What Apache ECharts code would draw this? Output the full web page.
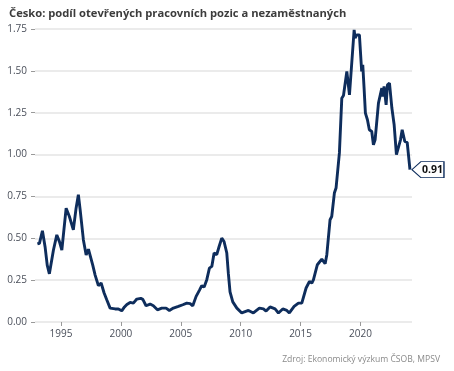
<!DOCTYPE html>
<html><head><meta charset="utf-8">
<script src="https://cdn.jsdelivr.net/npm/echarts@6/dist/echarts.min.js"></script>
<style>html,body{margin:0;padding:0;background:#fff}#c{width:454px;height:371px}</style>
</head><body><div id="c"></div>
<script>
const titleText = 'Česko: podíl otevřených pracovních pozic a nezaměstnaných';
const sourceText = 'Zdroj: Ekonomický výzkum ČSOB, MPSV';
const xTickYears = [1995, 2000, 2005, 2010, 2015, 2020];
const yTicks = [0, 0.25, 0.5, 0.75, 1, 1.25, 1.5, 1.75];
const dates = [
 1993.03,1993.2,1993.45,1993.67,1993.85,1994.03,1994.37,1994.65,1994.87,1995.07,
 1995.43,1995.7,1995.85,1996.03,1996.26,1996.45,1996.6,1996.87,1997.1,1997.29,
 1997.43,1997.65,1997.85,1998.12,1998.35,1998.6,1998.82,1999.1,1999.52,1999.79,
 2000.07,2000.3,2000.5,2000.77,2001.04,2001.33,2001.66,2001.83,2002.1,2002.44,
 2002.71,2003.05,2003.41,2003.77,2004.05,2004.38,2004.8,2005.17,2005.5,2005.78,
 2006.0,2006.28,2006.55,2006.75,2006.95,2007.17,2007.39,2007.59,2007.78,2008.0,
 2008.2,2008.42,2008.61,2008.84,2008.97,2009.11,2009.34,2009.68,2010.09,2010.65,
 2011.06,2011.56,2011.9,2012.12,2012.45,2012.87,2013.15,2013.51,2013.85,2014.06,
 2014.46,2014.82,2015.1,2015.46,2015.74,2015.94,2016.07,2016.4,2016.77,2017.05,
 2017.19,2017.46,2017.6,2017.82,2017.96,2018.07,2018.24,2018.44,2018.58,2018.86,
 2019.08,2019.28,2019.47,2019.55,2019.69,2019.91,2020.1,2020.19,2020.3,2020.41,
 2020.58,2020.74,2020.94,2021.08,2021.22,2021.5,2021.78,2021.86,2021.97,2022.14,
 2022.25,2022.42,2022.62,2022.81,2023.0,2023.34,2023.48,2023.7,2023.9,2024.13
];
const values = [
 0.466,0.47,0.545,0.45,0.34,0.288,0.43,0.52,0.48,0.43,
 0.68,0.63,0.62,0.55,0.68,0.76,0.67,0.49,0.40,0.435,
 0.43,0.34,0.28,0.217,0.233,0.173,0.133,0.083,0.078,0.078,
 0.067,0.09,0.105,0.117,0.113,0.137,0.141,0.135,0.097,0.107,
 0.097,0.073,0.083,0.083,0.069,0.083,0.093,0.103,0.113,0.11,
 0.097,0.153,0.189,0.217,0.209,0.253,0.322,0.332,0.412,0.402,
 0.451,0.501,0.481,0.412,0.29,0.18,0.12,0.083,0.054,0.069,
 0.054,0.083,0.078,0.065,0.09,0.078,0.054,0.078,0.069,0.054,
 0.093,0.113,0.113,0.203,0.242,0.233,0.252,0.342,0.376,0.348,
 0.402,0.611,0.63,0.77,0.80,0.79,1.01,1.337,1.353,1.496,
 1.357,1.556,1.745,1.696,1.715,1.715,1.496,1.536,1.397,1.248,
 1.208,1.148,1.138,1.058,1.088,1.307,1.397,1.347,1.407,1.297,
 1.417,1.427,1.278,1.178,1.0,1.088,1.148,1.078,1.072,0.91
];

const lineColor = '#0e2d5c';
const series = dates.map((d, i) => [d, values[i]]);
const lastIdx = dates.length - 1;
const ff = '"Open Sans", sans-serif';

const chart = echarts.init(document.getElementById('c'), null, {renderer: 'canvas'});
chart.setOption({
  animation: false,
  title: [
    {text: titleText, left: 4, top: 3,
     textStyle: {fontFamily: ff, fontSize: 11.2, fontWeight: 'bold', color: '#3c3c3c'}},
    {text: sourceText, right: 9, top: 350,
     textStyle: {fontFamily: ff, fontSize: 8.6, fontWeight: 'normal', color: '#8a8a8a'}}
  ],
  grid: {left: 35, right: 42, top: 29, bottom: 49, containLabel: false},
  xAxis: {
    type: 'value', min: 1992.83, max: 2024.3,
    axisLine: {show: false},
    axisTick: {show: true, customValues: xTickYears, length: 4, lineStyle: {color: '#999', width: 1}},
    axisLabel: {customValues: xTickYears, margin: 7, fontFamily: ff, fontSize: 10, color: '#4a4f5a',
      formatter: v => String(Math.round(v))},
    splitLine: {show: false}
  },
  yAxis: {
    type: 'value', min: 0, max: 1.75, interval: 0.25,
    axisLine: {show: false},
    axisTick: {show: true, length: 4, lineStyle: {color: '#999', width: 1}},
    axisLabel: {margin: 8, fontFamily: ff, fontSize: 10, color: '#4a4f5a',
      formatter: v => v.toFixed(2)},
    splitLine: {lineStyle: {color: '#e4e4e4', width: 1.5}}
  },
  series: [{
    type: 'line', data: series, showSymbol: false, symbol: 'none',
    lineStyle: {color: lineColor, width: 2.9},
    markPoint: {
      symbol: 'path://M0,8 L9,0 L32,0 L32,16 L9,16 Z',
      symbolSize: [32, 16],
      symbolOffset: [18, 0],
      itemStyle: {color: '#fff', borderColor: lineColor, borderWidth: 1},
      label: {show: true, position: 'inside', offset: [4.5, 0], fontFamily: ff, fontSize: 10.5,
        fontWeight: 'bold', color: '#111', formatter: p => p.value.toFixed(2)},
      data: [{coord: [dates[lastIdx], values[lastIdx]], value: values[lastIdx]}]
    }
  }]
});
</script>
</body></html>
